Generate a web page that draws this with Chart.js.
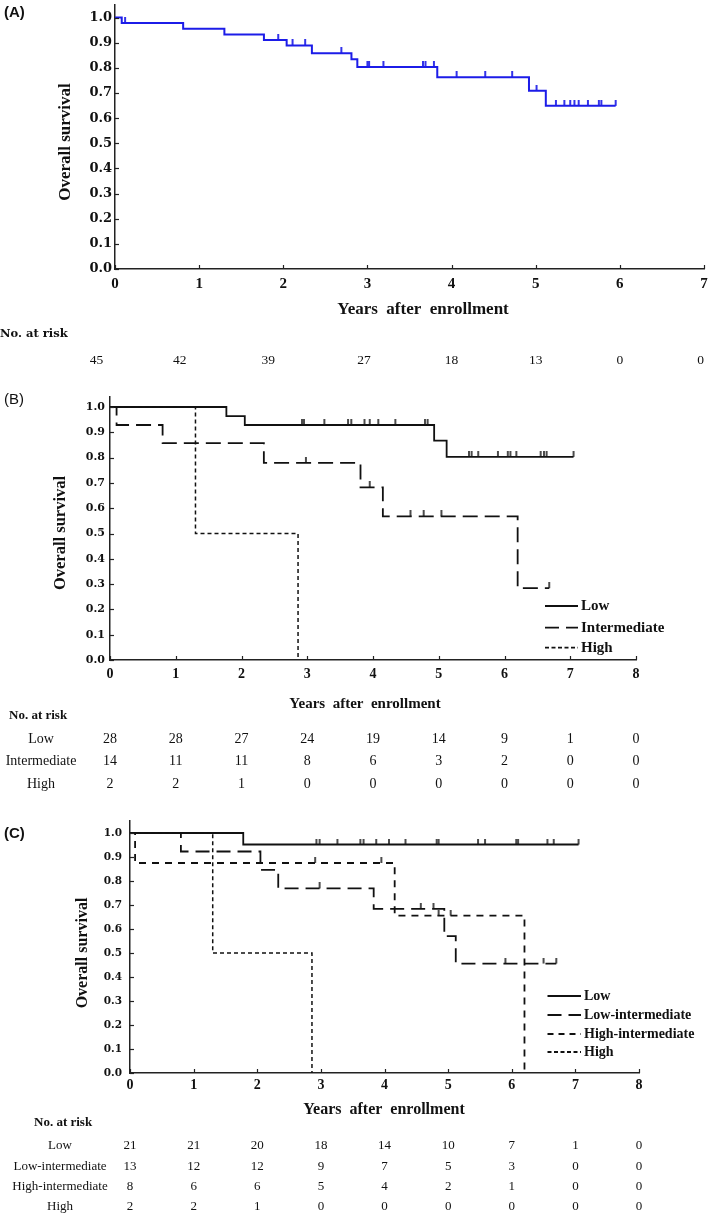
<!DOCTYPE html>
<html><head><meta charset="utf-8">
<script src="https://cdn.jsdelivr.net/npm/chart.js@4.4.1/dist/chart.umd.min.js"></script>
<style>
html,body{margin:0;padding:0;background:#fff;}
body{width:709px;height:1215px;position:relative;overflow:hidden;}
canvas{position:absolute;left:0;}
</style></head><body>
<canvas id="cA" width="709" height="390" style="top:0px;width:709px;height:390px"></canvas>
<canvas id="cB" width="709" height="410" style="top:390px;width:709px;height:410px"></canvas>
<canvas id="cC" width="709" height="415" style="top:800px;width:709px;height:415px"></canvas>
<script>
// ---------- Panel A data ----------
const aTimes  = [0, 0.08, 0.81, 1.30, 1.77, 2.04, 2.34, 2.81, 2.88, 3.83, 4.92, 5.12, 5.95];
const aSurv   = [1.0, 0.978, 0.956, 0.933, 0.911, 0.889, 0.858, 0.834, 0.803, 0.763, 0.709, 0.649, 0.649];
const aCensor = [0.12, 1.94, 2.11, 2.26, 2.69, 3.00, 3.02, 3.19, 3.66, 3.69, 3.79, 4.06, 4.40, 4.72, 5.01, 5.24, 5.34, 5.41, 5.46, 5.51, 5.62, 5.75, 5.78, 5.95];
const aRisk   = [45, 42, 39, 27, 18, 13, 0, 0];
const aRiskCols = [-0.22, 0.77, 1.82, 2.96, 4.0, 5.0, 6.0, 6.96];

// ---------- Panel B data ----------
const bLowTimes  = [0, 1.77, 2.05, 4.93, 5.12, 7.05];
const bLowSurv   = [1.0, 0.964, 0.929, 0.867, 0.803, 0.803];
const bLowCensor = [2.92, 2.95, 3.26, 3.62, 3.67, 3.87, 3.95, 4.08, 4.34, 4.79, 4.83, 5.46, 5.50, 5.60, 5.90, 6.05, 6.09, 6.18, 6.55, 6.60, 6.64, 7.05];
const bIntTimes  = [0, 0.10, 0.80, 2.34, 3.81, 4.15, 6.20, 6.68];
const bIntSurv   = [1.0, 0.929, 0.857, 0.779, 0.682, 0.568, 0.284, 0.284];
const bIntCensor = [2.98, 3.95, 4.57, 4.77, 5.04, 6.68];
const bHighTimes = [0, 1.30, 2.86];
const bHighSurv  = [1.0, 0.5, 0.0];
const bGroups    = ['Low', 'Intermediate', 'High'];
const bRiskLow   = [28, 28, 27, 24, 19, 14, 9, 1, 0];
const bRiskInt   = [14, 11, 11, 8, 6, 3, 2, 0, 0];
const bRiskHigh  = [2, 2, 1, 0, 0, 0, 0, 0, 0];

// ---------- Panel C data ----------
const cLowTimes   = [0, 1.78, 7.05];
const cLowSurv    = [1.0, 0.952, 0.952];
const cLowCensor  = [2.93, 2.98, 3.26, 3.62, 3.67, 3.87, 4.07, 4.33, 4.82, 4.85, 5.47, 5.58, 6.07, 6.10, 6.56, 6.66, 7.05];
const cLiTimes    = [0, 0.80, 2.05, 2.33, 3.83, 4.94, 5.12, 6.70];
const cLiSurv     = [1.0, 0.923, 0.846, 0.769, 0.684, 0.570, 0.456, 0.456];
const cLiCensor   = [2.98, 4.57, 4.77, 5.90, 6.50, 6.70];
const cHiTimes    = [0, 0.08, 4.16, 6.20];
const cHiSurv     = [1.0, 0.875, 0.656, 0.0];
const cHiCensor   = [2.91, 3.95, 4.85, 5.04];
const cHighTimes  = [0, 1.30, 2.86];
const cHighSurv   = [1.0, 0.5, 0.0];
const cGroups     = ['Low', 'Low-intermediate', 'High-intermediate', 'High'];
const cRiskLow    = [21, 21, 20, 18, 14, 10, 7, 1, 0];
const cRiskLi     = [13, 12, 12, 9, 7, 5, 3, 0, 0];
const cRiskHi     = [8, 6, 6, 5, 4, 2, 1, 0, 0];
const cRiskHigh   = [2, 2, 1, 0, 0, 0, 0, 0, 0];

const yTickLabels = ['0.0','0.1','0.2','0.3','0.4','0.5','0.6','0.7','0.8','0.9','1.0'];

// ---------- helpers ----------
function stepAt(times, surv, t) {
  let v = surv[0];
  for (let i = 0; i < times.length; i++) { if (times[i] <= t + 1e-9) v = surv[i]; }
  return v;
}
function pts(times, surv) { return times.map((t, i) => ({x: t, y: surv[i]})); }
function censorPts(times, surv, cens) { return cens.map(c => ({x: c, y: stepAt(times, surv, c)})); }
function censorMark(color, h, lw) {
  const c = document.createElement('canvas');
  c.width = 4; c.height = h * 2;
  const g = c.getContext('2d');
  g.strokeStyle = color; g.lineWidth = lw;
  g.beginPath(); g.moveTo(2, 0); g.lineTo(2, h); g.stroke();
  return c;
}
function curve(times, surv, color, width, dash) {
  return {data: pts(times, surv), borderColor: color, borderWidth: width, borderDash: dash,
          stepped: true, pointRadius: 0, fill: false, tension: 0};
}
function censors(times, surv, cens, color, mark) {
  return {data: censorPts(times, surv, cens), showLine: false, pointStyle: mark,
          pointRadius: 3, borderColor: color, backgroundColor: color};
}

function panelPlugin(p) {
  return {
    id: 'panelText',
    afterDraw(chart) {
      const ctx = chart.ctx, xs = chart.scales.x, ys = chart.scales.y, ca = chart.chartArea;
      ctx.save();
      // inward tick marks
      ctx.strokeStyle = '#222'; ctx.lineWidth = 1.2; ctx.setLineDash([]);
      xs.ticks.forEach(t => {
        const px = Math.round(xs.getPixelForValue(t.value)) + 0.5;
        ctx.beginPath(); ctx.moveTo(px, ca.bottom); ctx.lineTo(px, ca.bottom - 4); ctx.stroke();
      });
      ys.ticks.forEach(t => {
        const py = Math.round(ys.getPixelForValue(t.value)) + 0.5;
        ctx.beginPath(); ctx.moveTo(ca.left, py); ctx.lineTo(ca.left + 4, py); ctx.stroke();
      });
      ctx.fillStyle = '#111';
      ctx.textBaseline = 'middle';
      // panel label
      ctx.font = p.labelFont; ctx.textAlign = 'left';
      ctx.fillText(p.label, 4, p.labelY);
      // y title
      ctx.save();
      ctx.translate(p.yTitleX, p.yTitleY); ctx.rotate(-Math.PI / 2);
      ctx.font = p.yTitleFont; ctx.textAlign = 'center';
      ctx.fillText('Overall survival', 0, 0);
      ctx.restore();
      // x title
      ctx.font = p.xTitleFont; ctx.textAlign = 'center';
      ctx.fillText('Years  after  enrollment', p.xTitleX, p.xTitleY);
      // No. at risk
      ctx.font = p.riskHeadFont; ctx.textAlign = 'left';
      ctx.fillText('No. at risk', p.riskHeadX, p.riskHeadY);
      // risk rows
      ctx.font = p.riskFont; ctx.textAlign = 'center';
      p.rows.forEach((r, ri) => {
        const y = p.rowY[ri];
        if (r.name) ctx.fillText(r.name, p.rowLabelX, y);
        r.values.forEach((v, i) => {
          ctx.fillText(String(v), xs.getPixelForValue(r.cols[i]), y);
        });
      });
      // legend
      if (p.legend) {
        p.legend.forEach((it, i) => {
          const y = p.legendY[i];
          ctx.strokeStyle = '#111'; ctx.lineWidth = 1.8; ctx.setLineDash(it.dash);
          ctx.beginPath(); ctx.moveTo(p.legendX1, y); ctx.lineTo(p.legendX2, y); ctx.stroke();
          ctx.setLineDash([]);
          ctx.font = p.legendFont; ctx.textAlign = 'left';
          ctx.fillText(it.name, p.legendX2 + 3, y);
        });
      }
      ctx.restore();
    }
  };
}

function makeChart(id, g, datasets, p) {
  return new Chart(document.getElementById(id), {
    type: 'line',
    data: {datasets},
    options: {
      responsive: false, animation: false, devicePixelRatio: 1,
      layout: {padding: g.padding},
      plugins: {legend: {display: false}, tooltip: {enabled: false}},
      scales: {
        x: {type: 'linear', min: 0, max: g.xMax,
            grid: {display: false, drawTicks: false},
            border: {display: true, color: '#222', width: 1.5},
            ticks: {stepSize: 1, autoSkip: false, maxRotation: 0, padding: g.xTickPad, color: '#111',
                    font: g.xTickFont, callback: v => String(v)},
            afterFit: s => { s.height = 30; s.paddingLeft = 0; s.paddingRight = 0; }},
        y: {type: 'linear', min: 0, max: g.yMax,
            grid: {display: false, drawTicks: false},
            border: {display: true, color: '#222', width: 1.5},
            ticks: {stepSize: 0.1, includeBounds: false, padding: g.yTickPad, color: '#111',
                    font: g.yTickFont, callback: (v) => yTickLabels[Math.round(v * 10)] ?? ''},
            afterFit: s => { s.width = g.yWidth; s.paddingTop = 0; s.paddingBottom = 0; }}
      }
    },
    plugins: [panelPlugin(p)]
  });
}

const BLUE = 'rgb(28,28,232)';
const BLACK = '#111';
const markBlue = censorMark(BLUE, 6, 1.8);
const markBlack = censorMark(BLACK, 6, 1.5);

// ---------- Panel A ----------
makeChart('cA',
  {padding: {top: 2, right: 5, bottom: 91, left: 0}, xMax: 7, yMax: 1.05, yWidth: 115,
   xTickPad: 6, yTickPad: 3,
   xTickFont: {family: 'Liberation Serif', weight: 'bold', size: 15},
   yTickFont: {family: 'DejaVu Serif', weight: 'bold', size: 13}},
  [curve(aTimes, aSurv, BLUE, 2, []),
   censors(aTimes, aSurv, aCensor, BLUE, markBlue)],
  {label: '(A)', labelFont: 'bold 15px "Liberation Sans"', labelY: 13,
   yTitleX: 65.6, yTitleY: 142, yTitleFont: 'bold 17px "Liberation Serif"',
   xTitleX: 423, xTitleY: 310, xTitleFont: 'bold 17px "Liberation Serif"',
   riskHeadFont: 'bold 11.5px "DejaVu Serif"', riskHeadX: 0, riskHeadY: 334,
   riskFont: '13.5px "Liberation Serif"', rowLabelX: 40,
   rows: [{name: '', values: aRisk, cols: aRiskCols}], rowY: [360]});

// ---------- Panel B ----------
const bCols = [0, 1, 2, 3, 4, 5, 6, 7, 8];
makeChart('cB',
  {padding: {top: 6.9, right: 73, bottom: 110, left: 0}, xMax: 8, yMax: 1.04, yWidth: 110,
   xTickPad: 6, yTickPad: 5,
   xTickFont: {family: 'Liberation Serif', weight: 'bold', size: 14},
   yTickFont: {family: 'DejaVu Serif', weight: 'bold', size: 11}},
  [curve(bHighTimes, bHighSurv, BLACK, 1.5, [4, 3]),
   curve(bIntTimes, bIntSurv, BLACK, 1.8, [15, 7]),
   curve(bLowTimes, bLowSurv, BLACK, 1.8, []),
   censors(bLowTimes, bLowSurv, bLowCensor, BLACK, markBlack),
   censors(bIntTimes, bIntSurv, bIntCensor, BLACK, markBlack)],
  {label: '(B)', labelFont: '15px "Liberation Sans"', labelY: 10,
   yTitleX: 61, yTitleY: 143, yTitleFont: 'bold 16.5px "Liberation Serif"',
   xTitleX: 365, xTitleY: 314, xTitleFont: 'bold 15px "Liberation Serif"',
   riskHeadFont: 'bold 13px "Liberation Serif"', riskHeadX: 9, riskHeadY: 326,
   riskFont: '14px "Liberation Serif"', rowLabelX: 41,
   rows: [{name: bGroups[0], values: bRiskLow, cols: bCols},
          {name: bGroups[1], values: bRiskInt, cols: bCols},
          {name: bGroups[2], values: bRiskHigh, cols: bCols}],
   rowY: [349, 371, 394],
   legend: [{name: bGroups[0], dash: []}, {name: bGroups[1], dash: [14, 7]}, {name: bGroups[2], dash: [4, 2.5]}],
   legendX1: 545, legendX2: 578, legendY: [216, 237.7, 257.7], legendFont: 'bold 15px "Liberation Serif"'});

// ---------- Panel C ----------
const cCols = [0, 1, 2, 3, 4, 5, 6, 7, 8];
makeChart('cC',
  {padding: {top: 21, right: 70, bottom: 112, left: 0}, xMax: 8, yMax: 1.05, yWidth: 130,
   xTickPad: 4, yTickPad: 8,
   xTickFont: {family: 'Liberation Serif', weight: 'bold', size: 14},
   yTickFont: {family: 'DejaVu Serif', weight: 'bold', size: 10.5}},
  [curve(cHighTimes, cHighSurv, BLACK, 1.5, [4, 3]),
   curve(cHiTimes, cHiSurv, BLACK, 1.8, [7, 6]),
   curve(cLiTimes, cLiSurv, BLACK, 1.8, [14, 7]),
   curve(cLowTimes, cLowSurv, BLACK, 1.8, []),
   censors(cLowTimes, cLowSurv, cLowCensor, BLACK, markBlack),
   censors(cLiTimes, cLiSurv, cLiCensor, BLACK, markBlack),
   censors(cHiTimes, cHiSurv, cHiCensor, BLACK, markBlack)],
  {label: '(C)', labelFont: 'bold 15px "Liberation Sans"', labelY: 34,
   yTitleX: 82.7, yTitleY: 153, yTitleFont: 'bold 16px "Liberation Serif"',
   xTitleX: 384, xTitleY: 310, xTitleFont: 'bold 16px "Liberation Serif"',
   riskHeadFont: 'bold 13px "Liberation Serif"', riskHeadX: 34, riskHeadY: 323,
   riskFont: '13px "Liberation Serif"', rowLabelX: 60,
   rows: [{name: cGroups[0], values: cRiskLow, cols: cCols},
          {name: cGroups[1], values: cRiskLi, cols: cCols},
          {name: cGroups[2], values: cRiskHi, cols: cCols},
          {name: cGroups[3], values: cRiskHigh, cols: cCols}],
   rowY: [346, 367, 387, 407],
   legend: [{name: cGroups[0], dash: []}, {name: cGroups[1], dash: [14, 7]}, {name: cGroups[2], dash: [6, 5]}, {name: cGroups[3], dash: [4, 2.5]}],
   legendX1: 547.5, legendX2: 581, legendY: [196, 215, 234, 252], legendFont: 'bold 14px "Liberation Serif"'});
</script>
</body></html>
